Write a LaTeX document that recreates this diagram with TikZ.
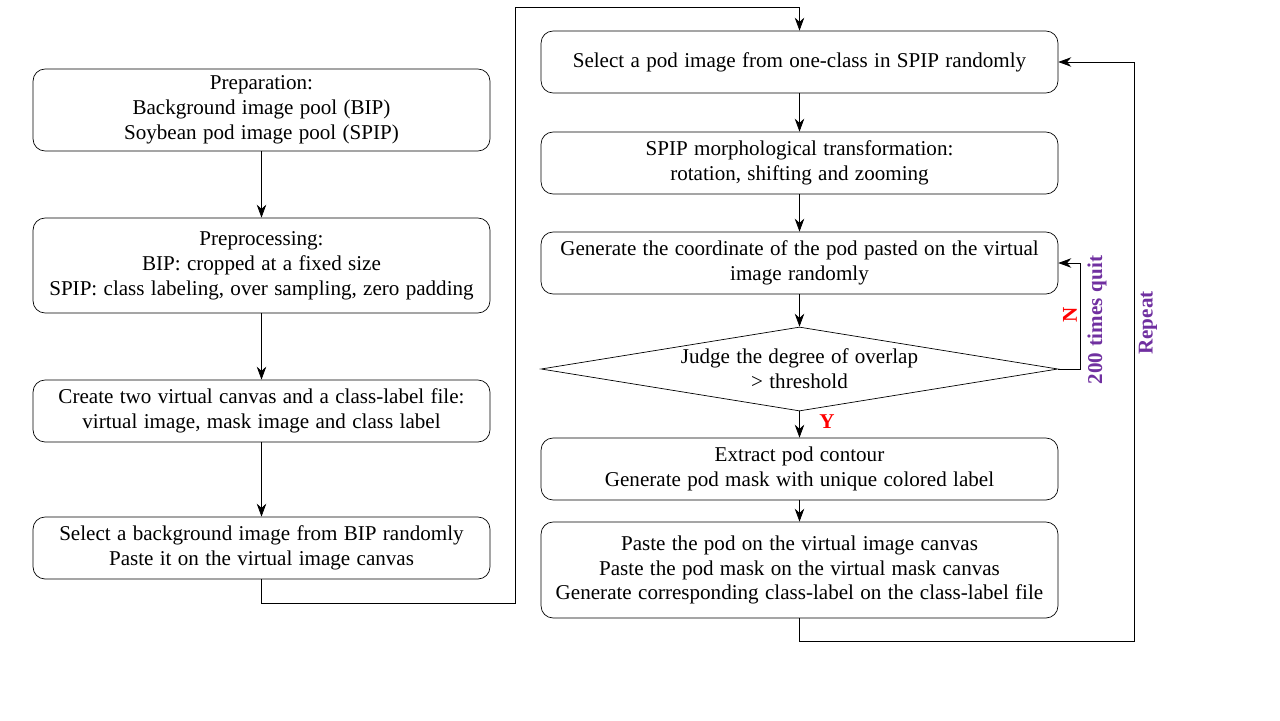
\documentclass[tikz,border=0pt]{standalone}
\usepackage{fontspec}
\setmainfont{Liberation Serif}[WordSpace={1.2,0,0}]
\usepackage{tikz}
\usetikzlibrary{arrows.meta}
\usetikzlibrary{shapes.geometric}
\definecolor{lblpurple}{RGB}{112,48,160}
\tikzset{
  stepbox/.style={draw, rounded corners=0.24cm, align=center, inner sep=2pt},
  leftbox/.style={stepbox, minimum width=9.14cm},
  rightbox/.style={stepbox, minimum width=10.34cm},
  flow/.style={-{Stealth[length=2.6mm,width=1.9mm]}, thin},
}
\begin{document}
\begin{tikzpicture}[x=0.02cm,y=-0.02cm,font=\fontsize{12}{14.2}\selectfont]
\useasboundingbox (0,0) rectangle (1280,720);
% left column
\node[leftbox, minimum height=1.64cm] (prep) at (261.5,110)
  {Preparation:\\ Background image pool (BIP)\\ Soybean pod image pool (SPIP)};
\node[leftbox, minimum height=1.90cm] (preproc) at (261.5,265.5)
  {Preprocessing:\\ BIP: cropped at a fixed size\\ SPIP: class labeling, over sampling, zero padding};
\node[leftbox, minimum height=1.24cm] (canvas) at (261.5,411)
  {Create two virtual canvas and a class-label file:\\ virtual image, mask image and class label};
\node[leftbox, minimum height=1.24cm] (selbg) at (261.5,548)
  {Select a background image from BIP randomly\\ Paste it on the virtual image canvas};
% right column
\node[rightbox, minimum height=1.24cm] (selpod) at (799.5,62)
  {Select a pod image from one-class in SPIP randomly};
\node[rightbox, minimum height=1.24cm] (morph) at (799.5,163)
  {SPIP morphological transformation:\\ rotation, shifting and zooming};
\node[rightbox, minimum height=1.24cm] (coord) at (799.5,263)
  {Generate the coordinate of the pod pasted on the virtual\\ image randomly};
\node[draw, diamond, aspect=6.15, inner sep=0pt, minimum width=10.34cm, minimum height=1.68cm, align=center] (judge) at (799.5,369)
  {Judge the degree of overlap\\ > threshold};
\node[rightbox, minimum height=1.24cm] (contour) at (799.5,469)
  {Extract pod contour\\ Generate pod mask with unique colored label};
\node[rightbox, minimum height=1.92cm] (paste) at (799.5,570)
  {Paste the pod on the virtual image canvas\\ Paste the pod mask on the virtual mask canvas\\ Generate corresponding class-label on the class-label file};
% connectors
\draw[flow] (prep) -- (preproc);
\draw[flow] (preproc) -- (canvas);
\draw[flow] (canvas) -- (selbg);
\draw[flow] (selbg.south) -- ++(0,24) -| (515,7) -| (selpod.north);
\draw[flow] (selpod) -- (morph);
\draw[flow] (morph) -- (coord);
\draw[flow] (coord) -- (judge);
\draw[flow] (judge) -- (contour);
\draw[flow] (contour) -- (paste);
\draw[flow] (judge.east) -- (1080,369) |- (coord.east);
\draw[flow] (paste.south) -- ++(0,23) -| (1134,62) -- (selpod.east);
% labels
\node[text=red, font=\bfseries\fontsize{12}{14}\selectfont, rotate=90] (nlbl) at (1070,315) {N};
\node[text=red, font=\bfseries\fontsize{12}{14}\selectfont] (ylbl) at (827,422) {Y};
\node[text=lblpurple, font=\bfseries\fontsize{12}{14}\selectfont, rotate=90] (quit) at (1097,320) {200 times quit};
\node[text=lblpurple, font=\bfseries\fontsize{12}{14}\selectfont, rotate=90] (rpt) at (1148,323) {Repeat};
\end{tikzpicture}
\end{document}
